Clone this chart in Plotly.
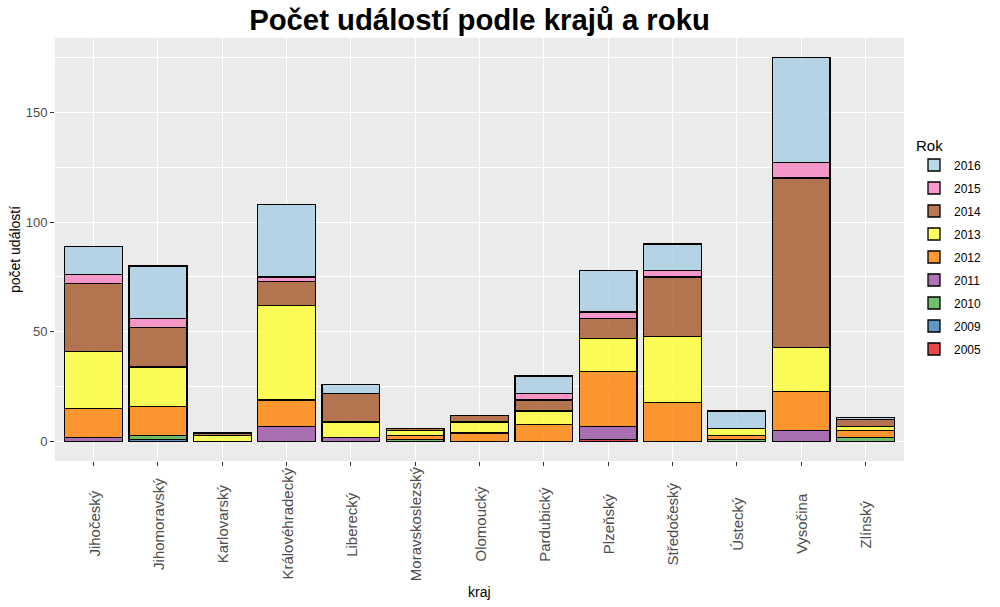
import plotly.graph_objects as go

regions = ["Jihočeský", "Jihomoravský", "Karlovarský", "Královéhradecký", "Liberecký",
           "Moravskoslezský", "Olomoucký", "Pardubický", "Plzeňský", "Středočeský",
           "Ústecký", "Vysočina", "Zlínský"]

years = ["2005", "2009", "2010", "2011", "2012", "2013", "2014", "2015", "2016"]

y2005 = [None, None, None, None, None, None, None, None, 1, None, None, None, None]
y2009 = [None, 1, None, None, None, None, None, None, None, None, None, None, None]
y2010 = [None, 2, None, None, None, 1, None, None, None, None, 1, None, 2]
y2011 = [2, None, None, 7, 2, None, None, None, 6, None, None, 5, None]
y2012 = [13, 13, None, 12, None, 2, 4, 8, 25, 18, 2, 18, 3]
y2013 = [26, 18, 3, 43, 7, 2, 5, 6, 15, 30, 3, 20, 2]
y2014 = [31, 18, 1, 11, 13, 1, 3, 5, 9, 27, None, 77, 3]
y2015 = [4, 4, None, 2, None, None, None, 3, 3, 3, None, 7, None]
y2016 = [13, 24, None, 33, 4, None, None, 8, 19, 12, 8, 48, 1]

series = [y2005, y2009, y2010, y2011, y2012, y2013, y2014, y2015, y2016]

colors = ["rgba(228,26,28,0.8)", "rgba(55,126,184,0.8)", "rgba(77,175,74,0.8)",
          "rgba(152,78,163,0.8)", "rgba(255,127,0,0.8)", "rgba(255,255,51,0.8)",
          "rgba(166,86,40,0.8)", "rgba(247,129,191,0.8)", "rgba(166,206,227,0.8)"]

FONT = "Liberation Sans, Arial, sans-serif"

fig = go.Figure()
n = len(years)
for i, (yr, vals, col) in enumerate(zip(years, series, colors)):
    fig.add_trace(go.Bar(
        x=regions, y=vals, name=yr, legendgroup=yr, legendrank=n - i,
        marker=dict(color=col, line=dict(color="black", width=1.3)),
        width=0.9,
    ))

L, R, T, B = 55, 96, 38, 146
plot_h = 607 - T - B

annotations = []
for r in regions:
    annotations.append(dict(
        x=r, xref="x", y=(461 - 524) / plot_h, yref="paper",
        text=r, showarrow=False, textangle=-90,
        xanchor="center", yanchor="middle",
        font=dict(family=FONT, size=15, color="#4D4D4D"),
    ))
annotations.append(dict(
    x=0.5, xref="paper", y=(461 - 592) / plot_h, yref="paper",
    text="kraj", showarrow=False, xanchor="center", yanchor="middle",
    font=dict(family=FONT, size=14, color="black"),
))

fig.update_layout(
    width=1000, height=607,
    margin=dict(l=L, r=R, t=T, b=B),
    paper_bgcolor="white",
    plot_bgcolor="#EBEBEB",
    barmode="stack",
    bargap=0.1,
    title=dict(text="<b>Počet událostí podle krajů a roku</b>",
               x=0.5, xref="paper", xanchor="center",
               y=1 - 20 / 607, yref="container", yanchor="middle",
               font=dict(family=FONT, size=29.3, color="black")),
    xaxis=dict(
        type="category", categoryorder="array", categoryarray=regions,
        range=[-0.6, 12.6], showticklabels=False,
        ticks="outside", ticklen=4, tickwidth=1.1, tickcolor="#333333",
        showgrid=True, gridcolor="white", gridwidth=1.2,
        zeroline=False, showline=False,
    ),
    yaxis=dict(
        range=[-8.75, 183.75], tickvals=[0, 50, 100, 150],
        ticks="outside", ticklen=4, tickwidth=1.1, tickcolor="#333333",
        tickfont=dict(family=FONT, size=13, color="#4D4D4D"),
        showgrid=True, gridcolor="white", gridwidth=1.2,
        minor=dict(tickvals=[25, 75, 125, 175], showgrid=True,
                   gridcolor="white", gridwidth=0.6, ticks=""),
        zeroline=False, showline=False,
        title=dict(text="počet událostí", standoff=1,
                   font=dict(family=FONT, size=14, color="black")),
    ),
    legend=dict(
        title=dict(text="Rok", font=dict(family=FONT, size=15, color="black")),
        font=dict(family=FONT, size=12, color="black"),
        traceorder="grouped", tracegroupgap=4,
        x=(914 - L) / (1000 - L - R), xanchor="left",
        y=(461 - 131) / plot_h, yanchor="top",
        bgcolor="rgba(0,0,0,0)",
    ),
    annotations=annotations,
)

fig.write_html("out.html")
